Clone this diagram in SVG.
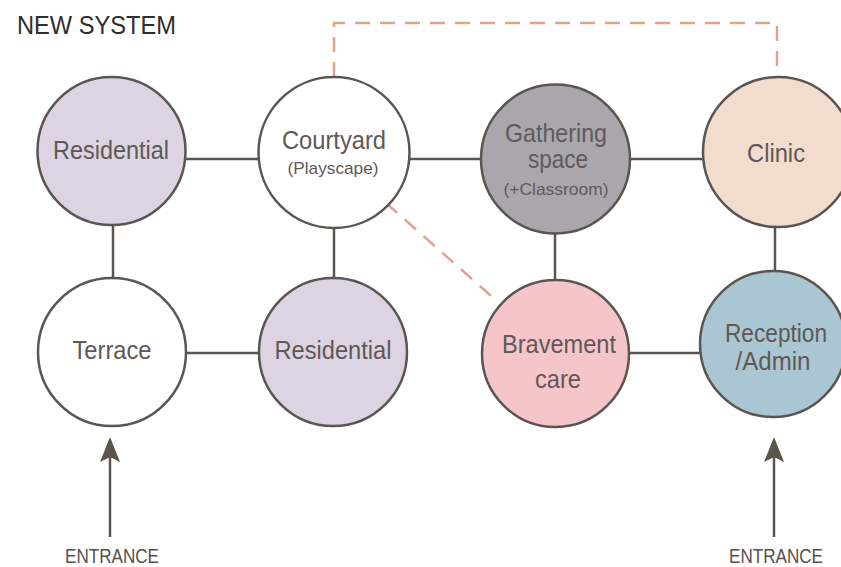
<svg xmlns="http://www.w3.org/2000/svg" width="841" height="567" viewBox="0 0 841 567">
<style>
.node{stroke:#5a5550;stroke-width:2.5}
.lbl{font-family:"Liberation Sans",Arial,sans-serif;font-size:25px;fill:#5f5856;text-anchor:middle}
.sub{font-size:17px}
.conn{stroke:#5a5550;stroke-width:2.5;fill:none}
.dash{stroke:#e2a28f;stroke-width:2.5;fill:none;stroke-dasharray:15 10}
.ent{font-family:"Liberation Sans",Arial,sans-serif;font-size:20px;fill:#55504c;text-anchor:middle}
</style>
<defs>
<marker id="arr" markerWidth="26" markerHeight="22" refX="21" refY="10" orient="auto" markerUnits="userSpaceOnUse" viewBox="0 0 26 20">
<path d="M0 0 L25 10 L0 20 L5 10 Z" fill="#5a5548"/>
</marker>
</defs>
<rect width="841" height="567" fill="#ffffff"/>
<text x="17" y="34" font-family="Liberation Sans,Arial,sans-serif" font-size="26" fill="#2e2e2e" textLength="159" lengthAdjust="spacingAndGlyphs">NEW SYSTEM</text>
<g id="connectors">
<line class="conn" x1="186" y1="159" x2="259" y2="159"/>
<line class="conn" x1="409" y1="159" x2="481" y2="159"/>
<line class="conn" x1="630" y1="159" x2="704" y2="159"/>
<line class="conn" x1="113" y1="224" x2="113" y2="279"/>
<line class="conn" x1="334" y1="227" x2="334" y2="279"/>
<line class="conn" x1="555" y1="232" x2="555" y2="281"/>
<line class="conn" x1="775" y1="226" x2="775" y2="272"/>
<line class="conn" x1="186" y1="353" x2="260" y2="353"/>
<line class="conn" x1="628" y1="353" x2="701" y2="353"/>
<path class="dash" d="M334 77 V23 H777 V77"/>
<line class="dash" x1="386" y1="203" x2="498" y2="302"/>
<line class="conn" x1="110" y1="537" x2="110" y2="441" marker-end="url(#arr)"/>
<line class="conn" x1="774" y1="537" x2="774" y2="441" marker-end="url(#arr)"/>
</g>
<g id="residential1">
<circle class="node" cx="111.5" cy="151" r="74" fill="#ddd3e2"/>
<text class="lbl" x="111" y="159" textLength="116" lengthAdjust="spacingAndGlyphs">Residential</text>
</g>
<g id="courtyard">
<circle class="node" cx="334" cy="152.5" r="75.5" fill="#ffffff"/>
<text class="lbl" x="334" y="149" textLength="104" lengthAdjust="spacingAndGlyphs">Courtyard</text>
<text class="lbl sub" x="333" y="174" textLength="91" lengthAdjust="spacingAndGlyphs">(Playscape)</text>
</g>
<g id="gathering">
<circle class="node" cx="555.5" cy="159" r="74.5" fill="#a9a6ac"/>
<text class="lbl" x="556" y="142" style="fill:#5f5a60" textLength="102" lengthAdjust="spacingAndGlyphs">Gathering</text>
<text class="lbl" x="558" y="168" style="fill:#5f5a60" textLength="60" lengthAdjust="spacingAndGlyphs">space</text>
<text class="lbl sub" x="556" y="195" style="fill:#5f5a60" textLength="105" lengthAdjust="spacingAndGlyphs">(+Classroom)</text>
</g>
<g id="clinic">
<circle class="node" cx="778" cy="152" r="75" fill="#f2dccd"/>
<text class="lbl" x="776" y="162" textLength="58" lengthAdjust="spacingAndGlyphs">Clinic</text>
</g>
<g id="terrace">
<circle class="node" cx="112" cy="352" r="74" fill="#ffffff"/>
<text class="lbl" x="112" y="359" textLength="79" lengthAdjust="spacingAndGlyphs">Terrace</text>
</g>
<g id="residential2">
<circle class="node" cx="333" cy="352" r="74" fill="#ddd3e2"/>
<text class="lbl" x="333" y="359" textLength="117" lengthAdjust="spacingAndGlyphs">Residential</text>
</g>
<g id="bravement">
<circle class="node" cx="555.5" cy="353.5" r="73.5" fill="#f5c5ca"/>
<text class="lbl" x="559" y="353" textLength="114" lengthAdjust="spacingAndGlyphs">Bravement</text>
<text class="lbl" x="558" y="388" textLength="46" lengthAdjust="spacingAndGlyphs">care</text>
</g>
<g id="reception">
<circle class="node" cx="773" cy="344" r="73" fill="#aac6d3"/>
<text class="lbl" x="776" y="342" textLength="102" lengthAdjust="spacingAndGlyphs">Reception</text>
<text class="lbl" x="773" y="370" textLength="75" lengthAdjust="spacingAndGlyphs">/Admin</text>
</g>
<g id="entrances">
<text class="ent" x="112" y="563" textLength="94" lengthAdjust="spacingAndGlyphs">ENTRANCE</text>
<text class="ent" x="776" y="563" textLength="94" lengthAdjust="spacingAndGlyphs">ENTRANCE</text>
</g>
</svg>
